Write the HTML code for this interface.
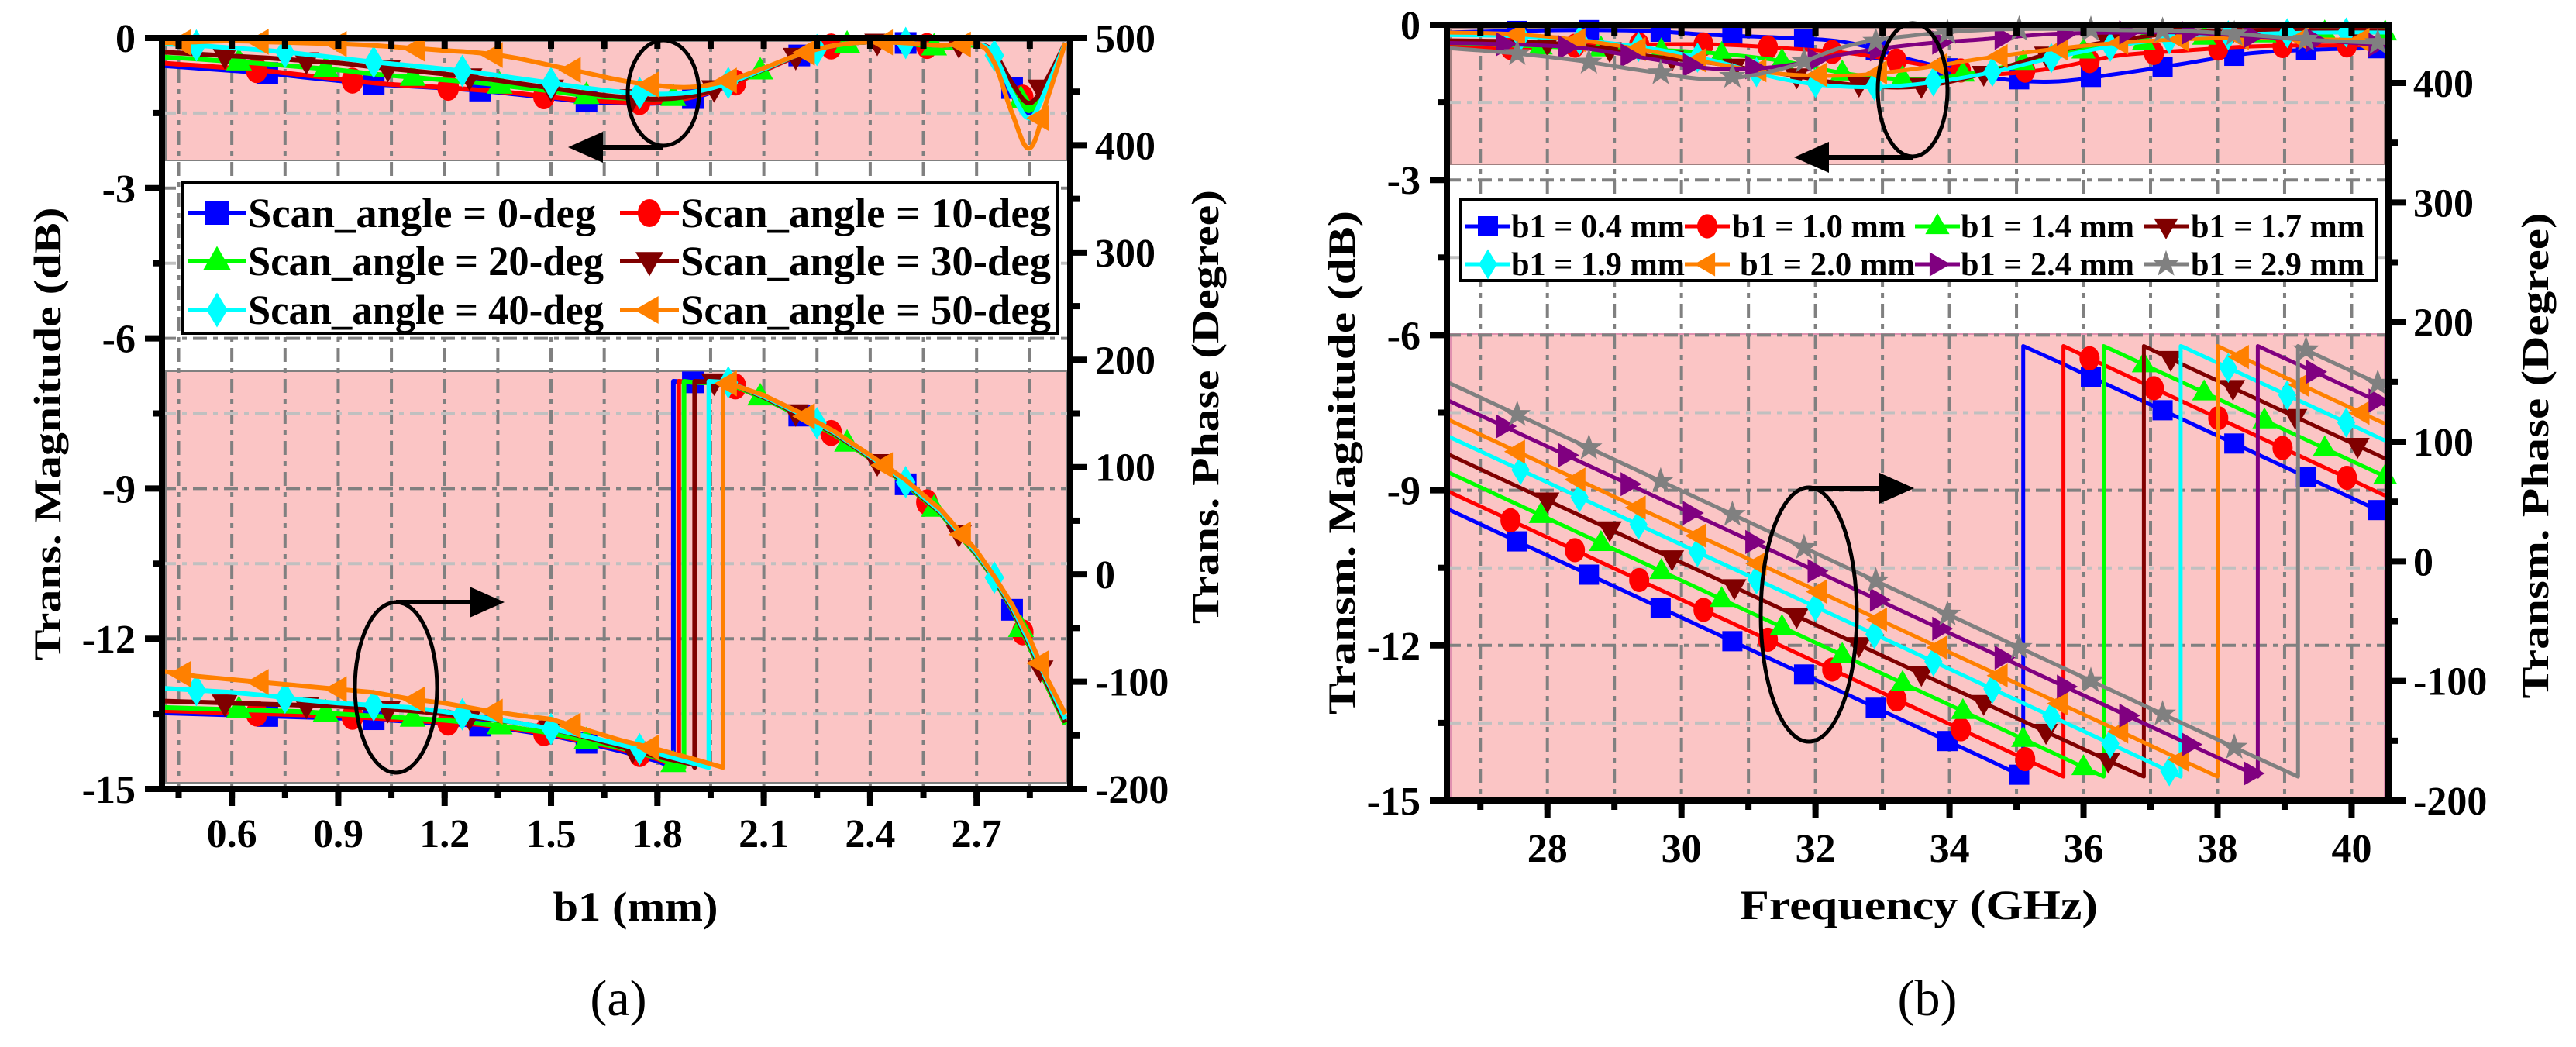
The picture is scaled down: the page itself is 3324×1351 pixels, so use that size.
<!DOCTYPE html>
<html><head><meta charset="utf-8">
<style>
html,body{margin:0;padding:0;background:#fff;}
svg{display:block;}
text{font-family:"Liberation Serif","Times New Roman",serif;}
</style></head>
<body>
<svg id="fig" xmlns="http://www.w3.org/2000/svg" width="3324" height="1351" viewBox="0 0 3324 1351">
<rect x="0" y="0" width="3324" height="1351" fill="#fff"/>
<g id="panelA"></g>
<g id="panelB"></g>
</svg>
<script>
// ---------- Panel (a) data ----------
const xsA = [0.4,0.5,0.6,0.7,0.8,0.9,1.0,1.1,1.2,1.3,1.4,1.5,1.6,1.7,1.8,1.9,2.0,2.1,2.2,2.3,2.4,2.5,2.6,2.7,2.75,2.8,2.85,2.9,2.95];
const namesA = ["Scan_angle = 0-deg","Scan_angle = 10-deg","Scan_angle = 20-deg","Scan_angle = 30-deg","Scan_angle = 40-deg","Scan_angle = 50-deg"];
const magA0 = [-0.55,-0.6,-0.65,-0.7,-0.78,-0.85,-0.92,-0.96,-1.0,-1.05,-1.12,-1.2,-1.27,-1.3,-1.3,-1.2,-0.95,-0.65,-0.35,-0.15,-0.08,-0.1,-0.2,-0.15,-0.35,-1.0,-1.5,-0.9,-0.1];
const magA1 = [-0.5,-0.55,-0.6,-0.66,-0.74,-0.82,-0.9,-0.95,-0.99,-1.04,-1.1,-1.18,-1.25,-1.28,-1.28,-1.18,-0.95,-0.65,-0.35,-0.15,-0.08,-0.1,-0.2,-0.15,-0.35,-0.95,-1.35,-0.85,-0.1];
const magA2 = [-0.38,-0.42,-0.47,-0.52,-0.58,-0.64,-0.72,-0.78,-0.84,-0.9,-0.98,-1.06,-1.15,-1.2,-1.22,-1.15,-0.92,-0.63,-0.34,-0.15,-0.08,-0.1,-0.2,-0.15,-0.35,-1.0,-1.45,-0.85,-0.1];
const magA3 = [-0.28,-0.32,-0.36,-0.4,-0.45,-0.5,-0.58,-0.65,-0.72,-0.8,-0.9,-1.0,-1.1,-1.18,-1.22,-1.15,-0.92,-0.63,-0.34,-0.15,-0.08,-0.1,-0.15,-0.12,-0.3,-0.9,-1.3,-0.8,-0.1];
const magA4 = [-0.12,-0.15,-0.2,-0.25,-0.32,-0.4,-0.48,-0.55,-0.62,-0.7,-0.8,-0.9,-1.0,-1.08,-1.12,-1.08,-0.9,-0.62,-0.33,-0.15,-0.08,-0.1,-0.15,-0.12,-0.35,-1.1,-1.6,-0.95,-0.1];
const magA5 = [-0.1,-0.08,-0.06,-0.08,-0.1,-0.12,-0.15,-0.2,-0.25,-0.3,-0.4,-0.55,-0.7,-0.85,-0.95,-0.98,-0.85,-0.6,-0.33,-0.15,-0.08,-0.1,-0.15,-0.12,-0.5,-1.5,-2.2,-1.2,-0.1];
const phA0 = [-129,-130,-131,-132,-133,-134,-135,-137,-139,-141,-145,-150,-157,-165,-174,179,178,164,148,130,108,84,56,18,-5,-33,-68,-105,-140];
const phA1 = [-127,-128,-129,-130,-131,-132,-134,-136,-138,-140,-144,-149,-156,-163,-172,179,178,164,148,130,108,84,56,18,-5,-33,-68,-105,-140];
const phA2 = [-124,-125,-126,-127,-128,-130,-132,-134,-136,-139,-143,-148,-155,-162,-171,179,178,164,148,130,108,84,56,18,-5,-33,-68,-105,-140];
const phA3 = [-118,-119,-120,-121,-122,-123,-125,-127,-130,-134,-138,-144,-152,-161,-170,-177,179,165,149,131,109,85,57,19,-4,-32,-66,-103,-138];
const phA4 = [-106,-108,-110,-113,-117,-120,-122,-124,-128,-133,-138,-144,-151,-159,-167,-176,179,166,150,132,110,86,58,20,-3,-30,-64,-100,-135];
const phA5 = [-90,-95,-98,-101,-104,-107,-110,-116,-120,-126,-131,-135,-145,-155,-163,-172,178,167,151,133,111,88,60,22,-2,-28,-60,-98,-130];
const jumpA = [1.845,1.86,1.875,1.905,1.945,1.985];
const yTicksA = [0,-3,-6,-9,-12,-15];
const pTicksA = [500,400,300,200,100,0,-100,-200];
const xTicksA = [0.6,0.9,1.2,1.5,1.8,2.1,2.4,2.7];

// ---------- Panel (b) data ----------
const fsB = [26.5,27.5,28.5,29.5,30.5,31.5,32.5,33.5,34.5,35.5,36.5,37.5,38.5,39.5,40.5];
const namesB = ["b1 = 0.4 mm","b1 = 1.0 mm","b1 = 1.4 mm","b1 = 1.7 mm","b1 = 1.9 mm","b1 = 2.0 mm","b1 = 2.4 mm","b1 = 2.9 mm"];
const magB0 = [-0.15,-0.12,-0.1,-0.12,-0.2,-0.25,-0.35,-0.7,-1.0,-1.1,-0.95,-0.75,-0.55,-0.48,-0.45];
const magB1 = [-0.4,-0.45,-0.4,-0.38,-0.38,-0.45,-0.55,-0.75,-0.95,-0.85,-0.6,-0.5,-0.42,-0.4,-0.4];
const magB2 = [-0.35,-0.4,-0.45,-0.48,-0.55,-0.7,-0.95,-1.05,-0.9,-0.6,-0.4,-0.25,-0.2,-0.15,-0.15];
const magB3 = [-0.3,-0.32,-0.4,-0.6,-0.75,-0.95,-1.15,-1.2,-0.95,-0.55,-0.3,-0.15,-0.1,-0.1,-0.1];
const magB4 = [-0.2,-0.22,-0.3,-0.45,-0.7,-1.05,-1.2,-1.15,-0.95,-0.65,-0.4,-0.25,-0.18,-0.15,-0.15];
const magB5 = [-0.15,-0.18,-0.3,-0.5,-0.75,-0.95,-0.98,-0.85,-0.65,-0.48,-0.35,-0.28,-0.25,-0.28,-0.3];
const magB6 = [-0.35,-0.38,-0.45,-0.65,-0.85,-0.8,-0.55,-0.38,-0.28,-0.18,-0.15,-0.15,-0.22,-0.3,-0.4];
const magB7 = [-0.45,-0.55,-0.7,-0.9,-1.05,-0.85,-0.4,-0.2,-0.1,-0.08,-0.1,-0.12,-0.2,-0.3,-0.35];
const phB0 = [44,18,-8,-34,-60,-86,-112,-138,-164,170,144,118,92,66,40];
const phB1 = [59,33,7,-19,-45,-71,-97,-123,-149,-175,159,133,107,81,55];
const phB2 = [75,49,23,-3,-29,-55,-81,-107,-133,-159,175,149,123,97,71];
const phB3 = [90,64,38,12,-14,-40,-66,-92,-118,-144,-170,164,138,112,86];
const phB4 = [105,79,53,27,1,-25,-51,-77,-103,-129,-155,179,153,127,101];
const phB5 = [119,93,67,41,15,-11,-37,-63,-89,-115,-141,-167,167,141,115];
const phB6 = [135,109,83,57,31,5,-21,-47,-73,-99,-125,-151,-177,157,131];
const phB7 = [150,124,98,72,46,20,-6,-32,-58,-84,-110,-136,-162,172,146];
const jumpB = [35.1,35.7,36.3,36.9,37.45,38.0,38.6,39.2];
const yTicksB = [0,-3,-6,-9,-12,-15];
const pTicksB = [400,300,200,100,0,-100,-200];
const xTicksB = [28,30,32,34,36,38,40];

const colorsA = ["#0000ff","#ff0000","#00ff00","#800000","#00ffff","#ff8000"];
const shapesA = ["square","circle","up","down","diamond","left"];
const colorsB = ["#0000ff","#ff0000","#00ff00","#800000","#00ffff","#ff8000","#800080","#808080"];
const shapesB = ["square","circle","up","down","diamond","left","right","star"];

const NS = "http://www.w3.org/2000/svg";
function el(tag, attrs, parent){
  const e = document.createElementNS(NS, tag);
  for (const k in attrs) e.setAttribute(k, attrs[k]);
  if (parent) parent.appendChild(e);
  return e;
}

const PA = {x0:209,x1:1381,y0:49,y1:1018,xmin:0.403,xmax:2.964,ymin:-15,ymax:0,pmin:-200,pmax:500};
const PB = {x0:1867,x1:3082,y0:32,y1:1033,xmin:26.5,xmax:40.55,ymin:-15,ymax:0,pmin:-200,pmax:448.6};
function sx(P,v){return P.x0+(v-P.xmin)/(P.xmax-P.xmin)*(P.x1-P.x0);}
function sy(P,v){return P.y0+(P.ymax-v)/(P.ymax-P.ymin)*(P.y1-P.y0);}
function sp(P,v){return P.y0+(P.pmax-v)/(P.pmax-P.pmin)*(P.y1-P.y0);}

function markerShape(g, type, cx, cy, s, color){
  let e;
  if (type==="square") e = el("rect",{x:cx-s/2,y:cy-s/2,width:s,height:s,fill:color},g);
  else if (type==="circle") e = el("ellipse",{cx:cx,cy:cy,rx:s*0.5,ry:s*0.6,fill:color},g);
  else {
    let pts;
    const h=s*0.65, w=s*0.6;
    if (type==="up") pts=[[cx,cy-h],[cx-w,cy+h*0.6],[cx+w,cy+h*0.6]];
    else if (type==="down") pts=[[cx,cy+h],[cx-w,cy-h*0.6],[cx+w,cy-h*0.6]];
    else if (type==="diamond") pts=[[cx,cy-s*0.75],[cx+s*0.45,cy],[cx,cy+s*0.75],[cx-s*0.45,cy]];
    else if (type==="left") pts=[[cx-h,cy],[cx+h*0.6,cy-w],[cx+h*0.6,cy+w]];
    else if (type==="right") pts=[[cx+h,cy],[cx-h*0.6,cy-w],[cx-h*0.6,cy+w]];
    else { pts=[]; for(let i=0;i<10;i++){const r=i%2?s*0.28:s*0.7;const a=-Math.PI/2+i*Math.PI/5;pts.push([cx+r*Math.cos(a),cy+r*Math.sin(a)]);} }
    e = el("polygon",{points:pts.map(p=>p[0].toFixed(1)+","+p[1].toFixed(1)).join(" "),fill:color},g);
  }
  return e;
}

function phasePoints(P, xs, vals, jx){
  const pts=[];
  for(let i=0;i<xs.length;i++){
    if(i>0 && vals[i]-vals[i-1]>180){
      pts.push([sx(P,jx),sp(P,-180)]);
      pts.push([sx(P,jx),sp(P,180)]);
    }
    pts.push([sx(P,xs[i]),sp(P,vals[i])]);
  }
  return pts;
}
function magPoints(P, xs, vals){ return xs.map((x,i)=>[sx(P,x),sy(P,vals[i])]); }
function smoothPath(pts){
  let d="M"+pts[0][0].toFixed(1)+","+pts[0][1].toFixed(1);
  for(let i=0;i<pts.length-1;i++){
    const p0=pts[Math.max(0,i-1)],p1=pts[i],p2=pts[i+1],p3=pts[Math.min(pts.length-1,i+2)];
    const t=0.18;
    const c1=[p1[0]+(p2[0]-p0[0])*t,p1[1]+(p2[1]-p0[1])*t];
    const c2=[p2[0]-(p3[0]-p1[0])*t,p2[1]-(p3[1]-p1[1])*t];
    d+=" C"+c1[0].toFixed(1)+","+c1[1].toFixed(1)+" "+c2[0].toFixed(1)+","+c2[1].toFixed(1)+" "+p2[0].toFixed(1)+","+p2[1].toFixed(1);
  }
  return d;
}
function polyPath(pts){return "M"+pts.map(p=>p[0].toFixed(1)+","+p[1].toFixed(1)).join(" L");}
function interpAt(pts, X){
  for(let i=0;i<pts.length-1;i++){
    const a=pts[i],b=pts[i+1];
    if(X>=a[0]&&X<=b[0]&&b[0]>a[0]){const t=(X-a[0])/(b[0]-a[0]);return [X,a[1]+t*(b[1]-a[1])];}
  }
  return null;
}

function drawPanel(g, P, cfg){
  // pink bands
  for(const b of cfg.bands){
    const r = el("rect",{x:P.x0+5,y:b[0],width:P.x1-P.x0-10,height:b[1]-b[0],fill:"#fbc5c5",stroke:b[2],"stroke-width":2},g);
    
    
  }
  // grid
  const grid = el("g",{},g);
  
  
  for(const v of cfg.vgrid){
    el("line",{x1:sx(P,v),x2:sx(P,v),y1:P.y0,y2:P.y1,stroke:"#808080","stroke-width":4,"stroke-dasharray":"18 8 6 8"},grid);
  }
  for(const v of cfg.hMajor){
    el("line",{x1:P.x0,x2:P.x1,y1:sy(P,v),y2:sy(P,v),stroke:"#808080","stroke-width":4,"stroke-dasharray":"18 8 6 8"},grid);
  }
  for(const v of cfg.hMinor){
    el("line",{x1:P.x0,x2:P.x1,y1:sy(P,v),y2:sy(P,v),stroke:"#c0c0c0","stroke-width":4,"stroke-dasharray":"18 8 6 8"},grid);
  }
  // series
  for(let s=0;s<cfg.mags.length;s++){
    const sg = el("g",{},g);
    
    
    const mp = magPoints(P, cfg.xs, cfg.mags[s]);
    const ml = el("path",{d:smoothPath(mp),fill:"none",stroke:cfg.colors[s],"stroke-width":cfg.lw,"stroke-linejoin":"round"},sg);
    
    
    const pp = phasePoints(P, cfg.xs, cfg.phs[s], cfg.jumps[s]);
    const pl = el("path",{d:polyPath(pp),fill:"none",stroke:cfg.colors[s],"stroke-width":cfg.lw,"stroke-linejoin":"round"},sg);
    
    
    for(let X=cfg.mStart[s]; X<=cfg.xs[cfg.xs.length-1]; X+=cfg.mStep[s]){
      const px = sx(P,X);
      const a = interpAt(mp, px);
      if(a){const m=markerShape(sg,cfg.shapes[s],a[0],a[1],cfg.ms,cfg.colors[s]);
        
        }
      const b = interpAt(pp, px);
      if(b){const m=markerShape(sg,cfg.shapes[s],b[0],b[1],cfg.ms,cfg.colors[s]);
        
        }
    }
  }
  // axes frame
  const ax = el("g",{stroke:"#000","stroke-width":8,fill:"none"},g);
  
  
  el("rect",{x:P.x0,y:P.y0,width:P.x1-P.x0,height:P.y1-P.y0},ax);
  // ticks
  for(const v of cfg.yMajor){ el("line",{x1:P.x0-22,x2:P.x0,y1:sy(P,v),y2:sy(P,v),"stroke-width":8},ax); }
  for(const v of cfg.hMinor){ el("line",{x1:P.x0-12,x2:P.x0,y1:sy(P,v),y2:sy(P,v),"stroke-width":8},ax); }
  for(const v of cfg.pTicks){ el("line",{x1:P.x1,x2:P.x1+22,y1:sp(P,v),y2:sp(P,v),"stroke-width":8},ax); }
  for(const v of cfg.pMinor){ el("line",{x1:P.x1,x2:P.x1+12,y1:sp(P,v),y2:sp(P,v),"stroke-width":8},ax); }
  for(const v of cfg.xTicks){ el("line",{x1:sx(P,v),x2:sx(P,v),y1:P.y1,y2:P.y1+22,"stroke-width":8},ax); }
  for(const v of cfg.vgrid){ el("line",{x1:sx(P,v),x2:sx(P,v),y1:P.y1,y2:P.y1+12,"stroke-width":8},ax);
                             el("line",{x1:sx(P,v),x2:sx(P,v),y1:P.y0,y2:P.y0+14,"stroke-width":8},ax); }
  // tick labels
  const tl = el("g",{"font-size":52,"font-weight":"bold",fill:"#000"},g);
  
  
  for(const v of cfg.yMajor){ const t=el("text",{x:P.x0-34,y:sy(P,v)+18,"text-anchor":"end"},tl); t.textContent=String(v); }
  for(const v of cfg.pTicks){ const t=el("text",{x:P.x1+32,y:sp(P,v)+18,"text-anchor":"start"},tl); t.textContent=String(v); }
  for(const v of cfg.xTicks){ const t=el("text",{x:sx(P,v),y:cfg.xLabelY,"text-anchor":"middle"},tl); t.textContent=cfg.xFmt(v); }
}

const gA=document.getElementById("panelA"), gB=document.getElementById("panelB");
function range(a,b,st){const r=[];for(let v=a;v<=b+1e-9;v+=st)r.push(Math.round(v*1000)/1000);return r;}

drawPanel(gA, PA, {
  bands:[[PA.y0+4,207,"#808080"],[479,1010,"#808080"]],
  vgrid:range(0.45,2.85,0.15), hMajor:[-3,-6,-9,-12], hMinor:[-1.5,-4.5,-7.5,-10.5,-13.5],
  xs:xsA, mags:[magA0,magA1,magA2,magA3,magA4,magA5], phs:[phA0,phA1,phA2,phA3,phA4,phA5], jumps:jumpA,
  colors:colorsA, shapes:shapesA, lw:6, ms:28,
  mStart:[0.7,0.67,0.62,0.58,0.5,0.46], mStep:[0.3,0.27,0.245,0.23,0.25,0.22],
  yMajor:yTicksA, pTicks:pTicksA, pMinor:[450,350,250,150,50,-50,-150], xTicks:xTicksA, xLabelY:1093,
  xFmt:v=>v.toFixed(1)
});
drawPanel(gB, PB, {
  bands:[[PB.y0+4,212,"#a08080"],[431,1029,"#e090b0"]],
  vgrid:range(27,40,1), hMajor:[-3,-6,-9,-12], hMinor:[-1.5,-4.5,-7.5,-10.5,-13.5],
  xs:fsB, mags:[magB0,magB1,magB2,magB3,magB4,magB5,magB6,magB7], phs:[phB0,phB1,phB2,phB3,phB4,phB5,phB6,phB7], jumps:jumpB,
  colors:colorsB, shapes:shapesB, lw:5, ms:26,
  mStart:[27.55,27.45,27.9,28.0,27.6,27.55,27.35,27.55], mStep:[1.07,0.96,0.9,0.93,0.88,0.9,0.93,1.07],
  yMajor:yTicksB, pTicks:pTicksB, pMinor:[350,250,150,50,-50,-150], xTicks:xTicksB, xLabelY:1112,
  xFmt:v=>String(v)
});

// ---------- annotations ----------
function annot(g, cx, cy, rx, ry, ay, tipX, dir, name){
  const a = el("g",{},g);
  
  
  el("ellipse",{cx:cx,cy:cy,rx:rx,ry:ry,fill:"none",stroke:"#000","stroke-width":5},a);
  const base = tipX - dir*45;
  el("line",{x1:cx,y1:ay,x2:base,y2:ay,stroke:"#000","stroke-width":6},a);
  el("polygon",{points:`${tipX},${ay} ${base},${ay-20} ${base},${ay+20}`,fill:"#000"},a);
}
annot(gA, 856,120,46,68,190,733,-1,"magnitude-axis-pointer");
annot(gA, 511,887,53,110,777,651,1,"phase-axis-pointer");
annot(gB, 2468,116,45,86,203,2315,-1,"magnitude-axis-pointer");
annot(gB, 2334,793,62,164,630,2470,1,"phase-axis-pointer");

// ---------- legends ----------
function legend(g, box, items, colors, shapes, fs, ms, lw, name){
  const lg = el("g",{},g);
  
  
  el("rect",{x:box[0],y:box[1],width:box[2]-box[0],height:box[3]-box[1],fill:"#fff",stroke:"#000","stroke-width":4},lg);
  for(const it of items){
    const e = el("g",{},lg);
    
    
    el("line",{x1:it.sx,x2:it.sx+it.sw,y1:it.y,y2:it.y,stroke:colors[it.i],"stroke-width":lw},e);
    markerShape(e,shapes[it.i],it.sx+it.sw/2,it.y,ms,colors[it.i]);
    const t = el("text",{x:it.tx,y:it.y+fs*0.33,"font-size":fs,"font-weight":"bold",textLength:it.tw,lengthAdjust:"spacingAndGlyphs"},e);
    t.textContent = it.label;
  }
}
const legA = [];
const rowA=[275,337,400];
for(let i=0;i<6;i++){
  const c=i%2,r=Math.floor(i/2);
  legA.push({i:i,label:namesA[i],y:rowA[r],sx:c?800:242,sw:76,tx:c?878:320,tw:c?478:(r===0?449:459)});
}
legend(gA,[236,236,1364,430],legA,colorsA,shapesA,54,30,6,"legend");
const legB=[];
const colSx=[1891,2174,2471,2766], colTx=[1950,2235,2530,2827];
for(let i=0;i<8;i++){
  const c=i%4,r=Math.floor(i/4);
  legB.push({i:i,label:namesB[i],y:r?341:292,sx:colSx[c],sw:58,tx:colTx[c]+(r&&c===1?10:0),tw:r&&c===1?226:224});
}
legend(gB,[1885,258,3066,362],legB,colorsB,shapesB,42,26,5,"legend");

// ---------- titles ----------
function text(g, x, y, str, attrs, name){
  const t = el("text",Object.assign({x:x,y:y},attrs),g);
  t.textContent = str;
  
  
  return t;
}
text(gA,0,0,"Trans. Magnitude (dB)",{transform:"translate(78,560) rotate(-90)","text-anchor":"middle","font-size":50,"font-weight":"bold",textLength:585,lengthAdjust:"spacingAndGlyphs"},"y-axis-title-left");
text(gA,0,0,"Trans. Phase (Degree)",{transform:"translate(1572,525) rotate(-90)","text-anchor":"middle","font-size":50,"font-weight":"bold",textLength:560,lengthAdjust:"spacingAndGlyphs"},"y-axis-title-right");
text(gA,820,1188,"b1 (mm)",{"text-anchor":"middle","font-size":54,"font-weight":"bold",textLength:213,lengthAdjust:"spacingAndGlyphs"},"x-axis-title");
text(gA,798,1310,"(a)",{"text-anchor":"middle","font-size":66},"panel-label-a");
text(gB,0,0,"Transm. Magnitude (dB)",{transform:"translate(1748,597) rotate(-90)","text-anchor":"middle","font-size":50,"font-weight":"bold",textLength:650,lengthAdjust:"spacingAndGlyphs"},"y-axis-title-left");
text(gB,0,0,"Transm. Phase (Degree)",{transform:"translate(3288,588) rotate(-90)","text-anchor":"middle","font-size":50,"font-weight":"bold",textLength:627,lengthAdjust:"spacingAndGlyphs"},"y-axis-title-right");
text(gB,2476,1186,"Frequency (GHz)",{"text-anchor":"middle","font-size":54,"font-weight":"bold",textLength:462,lengthAdjust:"spacingAndGlyphs"},"x-axis-title");
text(gB,2487,1310,"(b)",{"text-anchor":"middle","font-size":66},"panel-label-b");
</script>
</body></html>
